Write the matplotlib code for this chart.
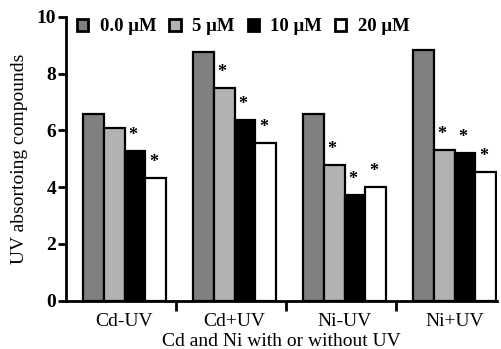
import matplotlib
matplotlib.use("Agg")
import matplotlib.pyplot as plt
import numpy as np

groups = ["Cd-UV", "Cd+UV", "Ni-UV", "Ni+UV"]
series = ["0.0 \u03bcM", "5 \u03bcM", "10 \u03bcM", "20 \u03bcM"]
v0 = [6.57, 8.77, 6.57, 8.83]
v5 = [6.08, 7.49, 4.79, 5.31]
v10 = [5.27, 6.36, 3.73, 5.21]
v20 = [4.32, 5.56, 4.01, 4.54]
sig5 = [False, True, True, True]
sig10 = [True, True, True, True]
sig20 = [True, True, True, True]
colors = ["#808080", "#b2b2b2", "#000000", "#ffffff"]

plt.rcParams['font.family'] = ['Liberation Serif', 'DejaVu Serif']

fig = plt.figure(figsize=(5.01, 3.49), dpi=100)
ax = fig.add_axes([0.1317, 0.1384, 0.8603, 0.813])

x = np.arange(len(groups))
w = 0.189
vals = [v0, v5, v10, v20]
sigs = [None, sig5, sig10, sig20]
for i, (v, c, lab) in enumerate(zip(vals, colors, series)):
    pos = x + (i - 1.5) * w
    ax.bar(pos, v, width=w, color=c, edgecolor='black', linewidth=1.6, label=lab, zorder=2)
    if sigs[i] is not None:
        for p, val, s in zip(pos, v, sigs[i]):
            if s:
                ax.text(p - 0.02, val + 0.25, "*", ha='center', va='bottom',
                        fontsize=13, fontweight='bold', zorder=3)

ax.set_xlim(-0.532, 3.386)
ax.set_ylim(0, 10)
ax.set_yticks([0, 2, 4, 6, 8, 10])
ax.set_yticklabels(["0", "2", "4", "6", "8", "10"], fontsize=14, fontweight='bold')
ax.set_xticks(x)
ax.set_xticklabels(groups, fontsize=14)
ax.tick_params(axis='x', which='major', length=0, pad=9)
ax.set_xticks(x[:-1] + 0.47, minor=True)
ax.tick_params(axis='x', which='minor', length=7, width=2)
ax.tick_params(axis='y', length=6, width=2, pad=1)

for s in ['top', 'right']:
    ax.spines[s].set_visible(False)
for s in ['left', 'bottom']:
    ax.spines[s].set_linewidth(2)

ax.set_ylabel("UV absortoing compounds", fontsize=14, labelpad=6)
ax.set_xlabel("Cd and Ni with or without UV", fontsize=14, labelpad=2)

leg = ax.legend(loc='upper left', bbox_to_anchor=(0.026, 0.995), ncol=4, frameon=False,
                prop={'size': 13.5, 'weight': 'bold'}, handlelength=0.6, handleheight=0.6,
                handletextpad=0.6, columnspacing=0.7, borderpad=0, borderaxespad=0)
for h in leg.legend_handles:
    h.set_linewidth(2)

fig.savefig("out.png", dpi=100)
